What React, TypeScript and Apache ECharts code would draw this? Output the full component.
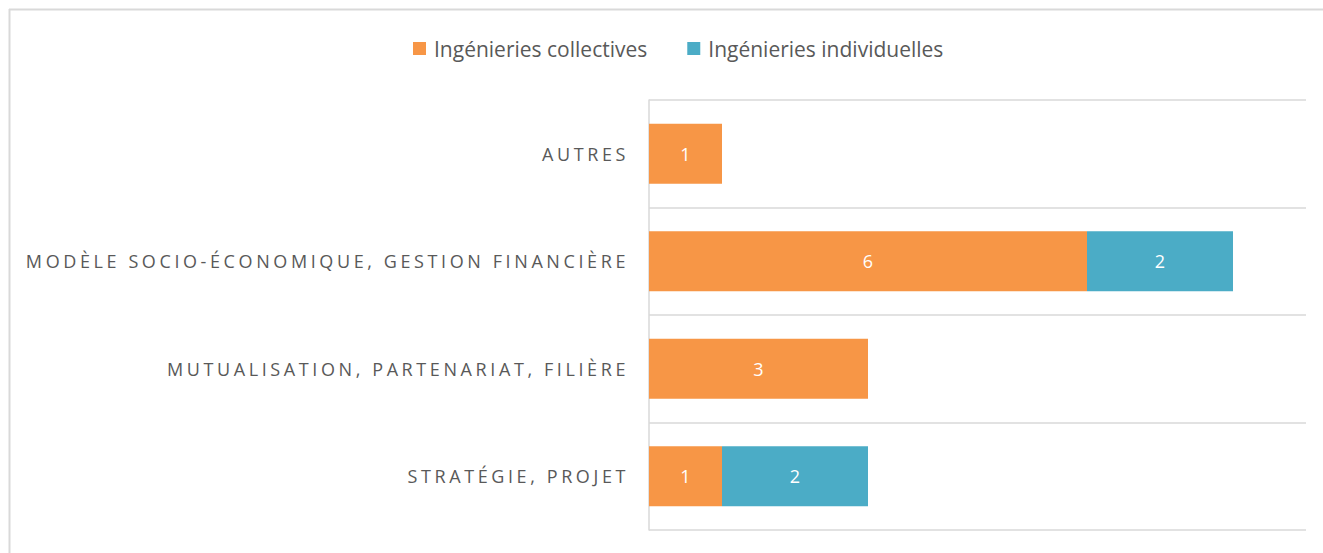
import React, { useEffect, useRef } from "react";
import * as echarts from "echarts";

const categories = [
  "STRATÉGIE, PROJET",
  "MUTUALISATION, PARTENARIAT, FILIÈRE",
  "MODÈLE SOCIO-ÉCONOMIQUE, GESTION FINANCIÈRE",
  "AUTRES",
];
const collectives = [1, 3, 6, 1];
const individuelles = [2, 0, 2, 0];
const seriesNames = ["Ingénieries collectives", "Ingénieries individuelles"];

const FONT = "'Open Sans', Lato, sans-serif";

export default function App() {
  const ref = useRef<HTMLDivElement>(null);
  useEffect(() => {
    if (!ref.current) return;
    const chart = echarts.init(ref.current, undefined, { renderer: "svg" });
    const label = {
      show: true,
      position: "inside",
      color: "#ffffff",
      fontSize: 18,
      fontFamily: FONT,
      formatter: (p: any) => (p.value ? String(p.value) : ""),
    };
    chart.setOption({
      animation: false,
      backgroundColor: "#ffffff",
      legend: {
        top: 33,
        left: 408,
        itemWidth: 13,
        itemHeight: 13,
        itemGap: 40,
        icon: "rect",
        textStyle: { color: "#595959", fontSize: 21, fontFamily: FONT, padding: [0, 0, 0, 3] },
        data: seriesNames,
      },
      grid: { left: 649, right: 17, top: 100, bottom: 23 },
      xAxis: {
        type: "value",
        min: 0,
        max: 9,
        show: false,
      },
      yAxis: {
        type: "category",
        data: categories,
        axisLine: { show: true, lineStyle: { color: "#d9d9d9", width: 1.5 } },
        axisTick: { show: false },
        splitLine: { show: true, lineStyle: { color: "#d9d9d9", width: 1.5 } },
        axisLabel: {
          color: "#595959",
          fontSize: 18,
          fontFamily: FONT,
          margin: 20,
        },
      },
      graphic: [
        {
          type: "line",
          shape: { x1: 9, y1: 9.5, x2: 1323, y2: 9.5 },
          style: { stroke: "#d9d9d9", lineWidth: 2 },
        },
        {
          type: "line",
          shape: { x1: 9.5, y1: 9, x2: 9.5, y2: 553 },
          style: { stroke: "#d9d9d9", lineWidth: 2 },
        },
      ],
      series: [
        {
          name: seriesNames[0],
          type: "bar",
          stack: "total",
          barWidth: "56%",
          itemStyle: { color: "#F79646" },
          label,
          data: collectives,
        },
        {
          name: seriesNames[1],
          type: "bar",
          stack: "total",
          barWidth: "56%",
          itemStyle: { color: "#4BACC6" },
          label,
          data: individuelles,
        },
      ],
    });
    return () => chart.dispose();
  }, []);
  return (
    <div style={{ position: "absolute", left: 0, top: 0, width: 1323, height: 553 }}>
      <style>{`#chartbox text[text-anchor="end"] { letter-spacing: 3.6px; }`}</style>
      <div id="chartbox" ref={ref} style={{ width: 1323, height: 553 }} />
    </div>
  );
}
